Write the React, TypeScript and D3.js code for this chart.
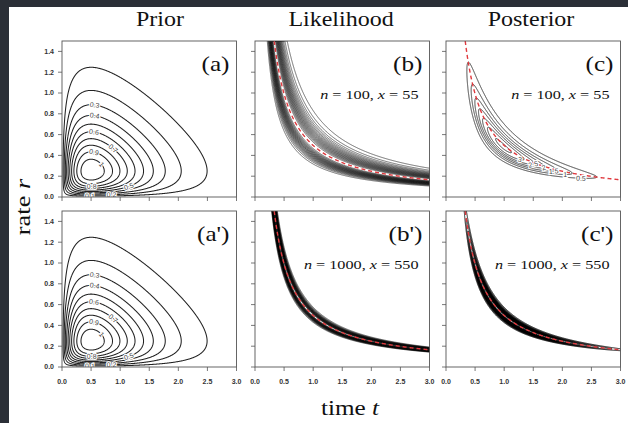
import { useMemo } from "react";
import * as d3 from "d3";

// values
const columnTitles = ["Prior", "Likelihood", "Posterior"];
const panelTags = [["(a)", "(b)", "(c)"], ["(a')", "(b')", "(c')"]];
const siteCounts = [100, 1000]; // n
const diffCounts = [55, 550]; // x
const timePrior = [2, 2]; // gamma(shape, rate) for t
const ratePrior = [2, 4]; // gamma(shape, rate) for r
const priorLevels = [0.1, 0.2, 0.3, 0.4, 0.5, 0.6, 0.7, 0.8, 0.9, 1.0];
const likeLevels = [0.05, 0.1, 0.15, 0.2, 0.25, 0.3, 0.35, 0.4, 0.45, 0.5, 0.55, 0.6, 0.65, 0.7, 0.75, 0.8, 0.85, 0.9, 0.95];
const postLevels = [
  [0.5, 1, 1.5, 2, 2.5, 3, 3.5, 4],
  [0.5, 1, 1.5, 2, 2.5, 3, 3.5, 4, 4.5, 5, 5.5, 6, 6.5, 7, 7.5, 8, 8.5, 9, 9.5, 10, 10.5, 11],
];
const timeTicks = [0, 0.5, 1, 1.5, 2, 2.5, 3];
const rateTicks = [0, 0.2, 0.4, 0.6, 0.8, 1.0, 1.2, 1.4];
// contour label anchors: [level, t, branch]
const priorLabels: [number, number, string][] = [
  [0.1, 0.48, "lo"], [0.2, 0.85, "lo"], [0.3, 0.56, "hi"], [0.4, 0.56, "hi"], [0.5, 1.15, "lo"],
  [0.6, 0.55, "hi"], [0.7, 0.88, "hi"], [0.8, 0.51, "lo"], [0.9, 0.55, "hi"], [1.0, 0.68, "hi"],
];
const postLabels: [number, number, string][] = [
  [0.5, 2.32, "lo"], [1, 2.05, "lo"], [1.5, 1.85, "lo"], [2, 1.68, "lo"], [2.5, 1.5, "lo"], [3, 1.27, "lo"],
];

const W = 628, H = 423;
const colX = [62, 255, 446];
const rowY = [41, 211];
const PW = 174.5, PH = 156;
const NX = 361, NY = 751;
const TMAX = 3, RMAX = 1.5;
const dt = TMAX / (NX - 1), dr = RMAX / (NY - 1);
const SX = 1.2; // the scan is stretched sideways
const SERIF = "'Liberation Serif', 'Times New Roman', serif";
const SANS = "'Liberation Sans', Arial, sans-serif";

const fact = (a: number) => d3.range(1, a).reduce((p, k) => p * k, 1);
const gammaPdf = (v: number, [a, b]: number[]) =>
  v <= 0 ? 0 : (Math.pow(b, a) * Math.pow(v, a - 1) * Math.exp(-b * v)) / fact(a);
const prior = (t: number, r: number) => gammaPdf(t, timePrior) * gammaPdf(r, ratePrior);

// JC69: distance d = 2rt
const jcP = (u: number) => 0.75 * (1 - Math.exp((-8 * u) / 3));
const mleU = (n: number, x: number) => (-3 / 8) * Math.log(1 - (4 / 3) * (x / n));
function likelihood(n: number, x: number) {
  const ll = (p: number) => (p <= 0 ? -Infinity : x * Math.log(p) + (n - x) * Math.log(1 - p));
  const top = ll(x / n);
  return (t: number, r: number) => Math.exp(ll(jcP(t * r)) - top);
}

function grid(f: (t: number, r: number) => number) {
  const v = new Float64Array(NX * NY);
  for (let j = 0; j < NY; j++) for (let i = 0; i < NX; i++) v[j * NX + i] = f(i * dt, j * dr);
  return v;
}

function labelSpot(f: (t: number, r: number) => number, level: number, t: number, side: string) {
  const hits: number[] = [];
  let prev = f(t, 0);
  for (let r = 0.0005; r <= RMAX; r += 0.0005) {
    const cur = f(t, r);
    if ((prev - level) * (cur - level) < 0) hits.push(r - 0.0005 * ((cur - level) / (cur - prev)));
    prev = cur;
  }
  if (!hits.length) return null;
  return side === "lo" ? hits[0] : hits[hits.length - 1];
}

function Stretch({ x, y, size, anchor = "middle", rotate = 0, children }: any) {
  return (
    <text
      transform={`translate(${x},${y}) rotate(${rotate}) scale(${SX},1)`}
      fontFamily={SERIF}
      fontSize={size}
      textAnchor={anchor}
      fill="#111"
    >
      {children}
    </text>
  );
}

function Panel({ row, col }: { row: number; col: number }) {
  const left = colX[col], top = rowY[row];
  const x = d3.scaleLinear().domain([0, TMAX]).range([left, left + PW]);
  const y = d3.scaleLinear().domain([0, RMAX]).range([top + PH, top]);
  const n = siteCounts[row], k = diffCounts[row];

  const built = useMemo(() => {
    let f: (t: number, r: number) => number;
    let levels: number[];
    if (col === 0) {
      f = prior;
      levels = priorLevels;
    } else if (col === 1) {
      f = likelihood(n, k);
      levels = likeLevels;
    } else {
      const L = likelihood(n, k);
      const raw = grid((t, r) => prior(t, r) * L(t, r));
      const Z = d3.sum(raw) * dt * dr;
      f = (t, r) => (prior(t, r) * L(t, r)) / Z;
      levels = postLevels[row];
    }
    const values = grid(f);
    const contours = d3.contours().size([NX, NY]).thresholds(levels)(Array.from(values));
    return { f, contours };
  }, [row, col, n, k]);

  const proj = d3.geoTransform({
    point(px: number, py: number) {
      (this as any).stream.point(x((px - 0.5) * dt), y((py - 0.5) * dr));
    },
  });
  const path = d3.geoPath(proj);

  const u0 = mleU(n, k);
  const ridge = d3
    .line<number>()
    .x((t) => x(t))
    .y((t) => y(u0 / t))(d3.range(u0 / RMAX, TMAX + 0.005, 0.01));

  const anchors = col === 0 ? priorLabels : col === 2 && row === 0 ? postLabels : [];
  const kx = PW / TMAX, ky = PH / RMAX;
  const labels = anchors
    .map(([lv, t, side]) => {
      const r = labelSpot(built.f, lv, t, side);
      if (r == null) return null;
      const h = 1e-4;
      const gx = (built.f(t + h, r) - built.f(t - h, r)) / (2 * h) / kx;
      const gy = -(built.f(t, r + h) - built.f(t, r - h)) / (2 * h) / ky;
      let ang = (Math.atan2(gx, -gy) * 180) / Math.PI;
      if (ang > 90) ang -= 180;
      if (ang < -90) ang += 180;
      return { lv, px: x(t), py: y(r), ang };
    })
    .filter(Boolean) as any[];

  const clipId = `clip-${row}-${col}`;
  const lineColor = col === 0 ? "#222" : col === 1 ? "#151515" : row === 1 ? "#000" : "#2a2a2a";
  const lineW = col === 0 ? 1.05 : col === 1 ? 0.6 : row === 1 ? 0.9 : 0.9;

  return (
    <g>
      <defs>
        <clipPath id={clipId}>
          <rect x={left} y={top} width={PW} height={PH} />
        </clipPath>
      </defs>
      <g clipPath={`url(#${clipId})`}>
        {built.contours.map((c, i) => (
          <path key={i} d={path(c as any) || ""} fill="none" stroke={lineColor} strokeWidth={lineW} />
        ))}
        {col > 0 && (
          <path d={ridge || ""} fill="none" stroke="#e0393e" strokeWidth={1.4} strokeDasharray="4 3" />
        )}
        {labels.map((l, i) => (
          <text
            key={i}
            transform={`translate(${l.px},${l.py}) rotate(${l.ang})`}
            fontFamily={SANS}
            fontSize={7}
            textAnchor="middle"
            dy="0.35em"
            fill="#444"
            stroke="#fff"
            strokeWidth={2.2}
            paintOrder="stroke"
          >
            {d3.format("~g")(l.lv)}
          </text>
        ))}
      </g>
      <rect x={left} y={top} width={PW} height={PH} fill="none" stroke="#555" strokeWidth={0.9} />
      {timeTicks.map((t) => (
        <g key={`xt${t}`}>
          <line x1={x(t)} x2={x(t)} y1={top + PH} y2={top + PH + 4} stroke="#555" strokeWidth={0.8} />
          {row === 1 && (
            <text x={x(t)} y={top + PH + 16.5} fontFamily={SANS} fontWeight="bold" fontSize={7} textAnchor="middle" fill="#333">
              {d3.format(".1f")(t)}
            </text>
          )}
        </g>
      ))}
      {rateTicks.map((r) => (
        <g key={`yt${r}`}>
          <line x1={left - 4} x2={left} y1={y(r)} y2={y(r)} stroke="#555" strokeWidth={0.8} />
          {col === 0 && (
            <text x={left - 8} y={y(r)} dy="0.35em" fontFamily={SANS} fontWeight="bold" fontSize={7} textAnchor="end" fill="#333">
              {d3.format(".1f")(r)}
            </text>
          )}
        </g>
      ))}
      <Stretch x={left + PW - 7} y={top + 30} size={21} anchor="end">
        {panelTags[row][col]}
      </Stretch>
      {col > 0 && (
        <Stretch x={left + PW - 11} y={top + 58} size={13.5} anchor="end">
          <tspan fontFamily={SERIF} fontStyle="italic">n</tspan>
          <tspan fontFamily={SERIF}>{` = ${n}, `}</tspan>
          <tspan fontFamily={SERIF} fontStyle="italic">x</tspan>
          <tspan fontFamily={SERIF}>{` = ${k}`}</tspan>
        </Stretch>
      )}
    </g>
  );
}

export default function App() {
  const titleX = [160, 341, 531];
  return (
    <svg width={W} height={H} style={{ position: "absolute", left: 0, top: 0, display: "block" }}>
      <rect width={W} height={H} fill="#fff" />
      <rect x={0} y={0} width={9} height={H} fill="#2b2f37" />
      <rect x={0} y={0} width={W} height={7} fill="#2b2f37" />
      {columnTitles.map((s, i) => (
        <Stretch key={s} x={titleX[i]} y={26} size={20}>
          {s}
        </Stretch>
      ))}
      {[0, 1].map((row) => [0, 1, 2].map((col) => <Panel key={`${row}-${col}`} row={row} col={col} />))}
      <Stretch x={30} y={207} size={22} rotate={-90}>
        rate <tspan fontStyle="italic">r</tspan>
      </Stretch>
      <Stretch x={350} y={415} size={21}>
        time <tspan fontStyle="italic">t</tspan>
      </Stretch>
    </svg>
  );
}
